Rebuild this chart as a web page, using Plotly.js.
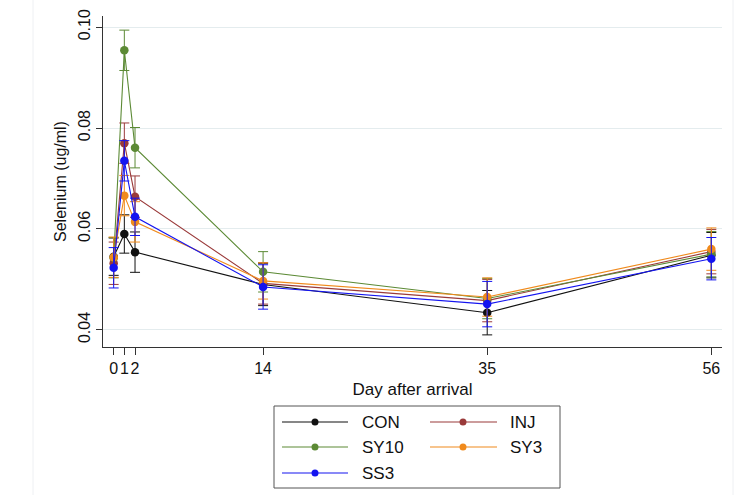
<!DOCTYPE html>
<html>
<head>
<meta charset="utf-8">
<script src="https://cdn.plot.ly/plotly-3.0.1.min.js"></script>
<style>
  html, body { margin: 0; padding: 0; background: #ffffff; }
  #chart { width: 745px; height: 495px; }
</style>
</head>
<body>
<div id="chart"></div>
<script>
// ---- data ----
const days = [0, 1, 2, 14, 35, 56];
const dayLabels = ['0', '1', '2', '14', '35', '56'];
const seriesNames = ['CON', 'INJ', 'SY10', 'SY3', 'SS3'];

const conMean  = [0.0545, 0.0590, 0.0554, 0.0490, 0.0434, 0.0548];
const conErr   = [0.0037, 0.0038, 0.0040, 0.0042, 0.0044, 0.0045];
const injMean  = [0.0532, 0.0770, 0.0664, 0.0492, 0.0458, 0.0555];
const injErr   = [0.0042, 0.0040, 0.0041, 0.0041, 0.0042, 0.0044];
const sy10Mean = [0.0543, 0.0954, 0.0761, 0.0515, 0.0462, 0.0550];
const sy10Err  = [0.0040, 0.0040, 0.0040, 0.0040, 0.0040, 0.0045];
const sy3Mean  = [0.0544, 0.0666, 0.0614, 0.0497, 0.0465, 0.0560];
const sy3Err   = [0.0040, 0.0040, 0.0040, 0.0036, 0.0038, 0.0042];
const ss3Mean  = [0.0523, 0.0735, 0.0624, 0.0485, 0.0451, 0.0541];
const ss3Err   = [0.0040, 0.0040, 0.0037, 0.0044, 0.0045, 0.0042];

const yTickVals = [0.04, 0.06, 0.08, 0.10];
const yTickText = ['0.04', '0.06', '0.08', '0.10'];

// ---- styles ----
const colors = ['#111111', '#9a3a3a', '#5c8a35', '#f08a1c', '#1414f0'];
const means = [conMean, injMean, sy10Mean, sy3Mean, ss3Mean];
const errs = [conErr, injErr, sy10Err, sy3Err, ss3Err];

const W = 745, H = 495;
const M = {l: 103, r: 23, t: 16, b: 148};
const plotW = W - M.l - M.r, plotH = H - M.t - M.b;
const px = x => (x - M.l) / plotW;
const py = y => (H - M.b - y) / plotH;

const traces = seriesNames.map((name, i) => ({
  type: 'scatter',
  mode: 'lines+markers',
  name: name,
  x: days,
  y: means[i],
  line: {color: colors[i], width: 1.1},
  marker: {color: colors[i], size: 8.5},
  error_y: {type: 'data', array: errs[i], visible: true, color: colors[i], thickness: 1, width: 5},
  showlegend: false,
  hoverinfo: 'x+y+name'
}));

// ---- manual legend (Stata style, 2 columns) ----
const shapes = [];
const annotations = [];
// outer frame of legend
shapes.push({type: 'rect', xref: 'paper', yref: 'paper',
  x0: px(274), x1: px(560), y0: py(406), y1: py(488),
  line: {color: '#555555', width: 1}, fillcolor: 'rgba(0,0,0,0)'});
const colLine = [[282, 348, 315, 360], [430, 497, 463, 508]];
const rowY = [422, 447, 473];
seriesNames.forEach((name, i) => {
  const c = colLine[i % 2];
  const ry = rowY[Math.floor(i / 2)];
  shapes.push({type: 'line', xref: 'paper', yref: 'paper',
    x0: px(c[0]), x1: px(c[1]), y0: py(ry), y1: py(ry),
    line: {color: colors[i], width: 1.1}});
  shapes.push({type: 'circle', xref: 'paper', yref: 'paper',
    xsizemode: 'pixel', ysizemode: 'pixel',
    xanchor: px(c[2]), yanchor: py(ry),
    x0: -3.5, x1: 3.5, y0: -3.5, y1: 3.5,
    fillcolor: colors[i], line: {color: colors[i], width: 0}});
  annotations.push({xref: 'paper', yref: 'paper', x: px(c[3]), y: py(ry),
    xanchor: 'left', yanchor: 'middle', showarrow: false, text: name,
    font: {family: 'Liberation Sans, Arial, sans-serif', size: 17, color: '#111111'}});
});
// faint page-frame lines seen in the reference
shapes.push({type: 'line', xref: 'paper', yref: 'paper', x0: px(33), x1: px(33),
  y0: py(0), y1: py(495), line: {color: '#eef0f3', width: 1}, layer: 'below'});
shapes.push({type: 'line', xref: 'paper', yref: 'paper', x0: px(733), x1: px(733),
  y0: py(0), y1: py(495), line: {color: '#eef0f3', width: 1}, layer: 'below'});

const layout = {
  width: W, height: H,
  margin: M,
  paper_bgcolor: '#ffffff',
  plot_bgcolor: '#ffffff',
  font: {family: 'Liberation Sans, Arial, sans-serif', size: 16, color: '#111111'},
  showlegend: false,
  xaxis: {
    range: [-1, 57],
    tickvals: days,
    ticktext: dayLabels,
    tickangle: 0,
    ticks: 'outside', ticklen: 7, tickcolor: '#333333', tickwidth: 1,
    showline: true, linecolor: '#333333', linewidth: 1,
    showgrid: false, zeroline: false,
    tickfont: {size: 16},
    title: {text: 'Day after arrival', font: {size: 17}, standoff: 6}
  },
  yaxis: {
    range: [0.0366, 0.1022],
    tickvals: yTickVals,
    ticktext: yTickText,
    tickangle: -90,
    ticks: 'outside', ticklen: 6, tickcolor: '#333333', tickwidth: 1,
    showline: true, linecolor: '#333333', linewidth: 1,
    showgrid: true, gridcolor: '#e4ecee', gridwidth: 1,
    zeroline: false,
    tickfont: {size: 16},
    title: {text: 'Selenium (ug/ml)', font: {size: 16}, standoff: 4}
  },
  shapes: shapes,
  annotations: annotations
};

Plotly.newPlot('chart', traces, layout, {displayModeBar: false, staticPlot: true});
</script>
</body>
</html>
